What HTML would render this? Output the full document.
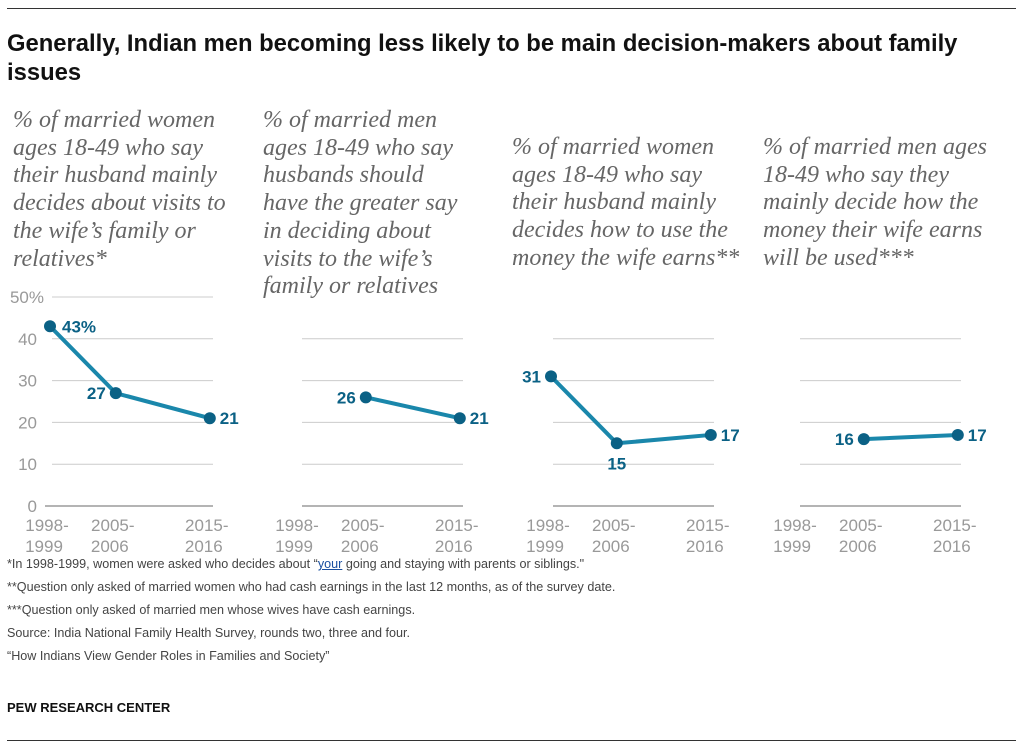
<!DOCTYPE html>
<html><head><meta charset="utf-8"><style>
body{margin:0;background:#fff;width:1023px;height:749px;overflow:hidden;font-family:"Liberation Sans",sans-serif}
.sub{position:absolute;top:107px;font-family:"Liberation Serif",serif;font-style:italic;color:#666;font-size:24px;line-height:27.7px;white-space:nowrap}
.fn{position:absolute;left:7px;font-size:12.6px;color:#444}
</style></head><body>
<div style="position:absolute;left:7px;top:8px;width:1009px;height:1px;background:#333"></div>
<div style="position:absolute;left:7px;top:29px;width:1012px;font-weight:bold;font-size:23.8px;line-height:29px;color:#111;white-space:nowrap">Generally, Indian men becoming less likely to be main decision-makers about family<br>issues</div>
<div class="sub" style="left:13px">% of married women<br>ages 18-49 who say<br>their husband mainly<br>decides about visits to<br>the wife’s family or<br>relatives*</div>
<div class="sub" style="left:263px">% of married men<br>ages 18-49 who say<br>husbands should<br>have the greater say<br>in deciding about<br>visits to the wife’s<br>family or relatives</div>
<div class="sub" style="left:512px;top:134px">% of married women<br>ages 18-49 who say<br>their husband mainly<br>decides how to use the<br>money the wife earns**</div>
<div class="sub" style="left:763px;top:134px">% of married men ages<br>18-49 who say they<br>mainly decide how the<br>money their wife earns<br>will be used***</div>
<svg id="chart" width="1023" height="749" style="position:absolute;left:0;top:0"></svg>
<div class="fn" style="top:557px">*In 1998-1999, women were asked who decides about “<span style="color:#1a4fa0;text-decoration:underline">your</span> going and staying with parents or siblings."</div>
<div class="fn" style="top:580px">**Question only asked of married women who had cash earnings in the last 12 months, as of the survey date.</div>
<div class="fn" style="top:603px">***Question only asked of married men whose wives have cash earnings.</div>
<div class="fn" style="top:626px">Source: India National Family Health Survey, rounds two, three and four.</div>
<div class="fn" style="top:649px">“How Indians View Gender Roles in Families and Society”</div>
<div style="position:absolute;left:7px;top:700px;font-weight:bold;font-size:13px;color:#111">PEW RESEARCH CENTER</div>
<div style="position:absolute;left:7px;top:740px;width:1009px;height:1px;background:#333"></div>
<script>
const years=["1998-1999","2005-2006","2015-2016"];
const yearPos=[1998.5,2005.5,2015.5];
const ticks=[0,10,20,30,40,50];
const p1=[43,27,21];
const p2=[null,26,21];
const p3=[31,15,17];
const p4=[null,16,17];
const series=[p1,p2,p3,p4];
const panelX=[50,300,551,798];
const svg=document.getElementById('chart');
const NS='http://www.w3.org/2000/svg';
function y(v){return 506-v*4.18;}
function x(p,yr){return panelX[p]+(yr-1998.5)*9.4;}
function mk(t,a,txt){const e=document.createElementNS(NS,t);for(const k in a)e.setAttribute(k,a[k]);if(txt!==undefined)e.textContent=txt;svg.appendChild(e);return e;}
series.forEach((s,p)=>{
  const x0=panelX[p];
  ticks.forEach(t=>{
    if(p>0&&t===50)return;
    const g=mk('line',{x1:(p===0&&t===0)?45:x0+2,x2:x0+163,y1:y(t),y2:y(t),stroke:t===0?'#888':'#ccc','stroke-width':t===0?1.3:1});
    
    
    if(p===0){
      const l=mk('text',{x:t===50?44:37,y:y(t)+6,'text-anchor':'end','font-size':17,fill:'#999'},t===50?'50%':String(t));
      
      
    }
  });
  years.forEach((yr,i)=>{
    const parts=yr.split('-');
    const cx=x(p,yearPos[i])-3;
    const a=mk('text',{x:cx,y:531,'text-anchor':'middle','font-size':17,fill:'#999'},parts[0]+'-');
    
    
    const b=mk('text',{x:cx-3,y:552,'text-anchor':'middle','font-size':17,fill:'#999'},parts[1]);
    
    
  });
  const pts=[];
  s.forEach((v,i)=>{if(v!==null)pts.push([x(p,yearPos[i]),y(v),v,i]);});
  const line=mk('polyline',{points:pts.map(q=>q[0]+','+q[1]).join(' '),fill:'none',stroke:'#1a87ab','stroke-width':4,'stroke-linejoin':'round'});
  
  
  pts.forEach((q,k)=>{
    const c=mk('circle',{cx:q[0],cy:q[1],r:6,fill:'#0b6185'});
    
    
    let lx,ly,anc;
    const prev=k>0?pts[k-1][2]:null,next=k<pts.length-1?pts[k+1][2]:null;
    if(k===pts.length-1){lx=q[0]+10;ly=q[1]+6;anc='start';}
    else if(k===0&&p===0){lx=q[0]+12;ly=q[1]+6;anc='start';}
    else if(k===0){lx=q[0]-10;ly=q[1]+6;anc='end';}
    else if(prev!==null&&prev>q[2]&&next>=q[2]){lx=q[0];ly=q[1]+26;anc='middle';}
    else{lx=q[0]-10;ly=q[1]+6;anc='end';}
    const t=mk('text',{x:lx,y:ly,'text-anchor':anc,'font-size':17,'font-weight':'bold',fill:'#0b6185'},(p===0&&k===0)?q[2]+'%':String(q[2]));
    
    
  });
});
</script>
</body></html>
